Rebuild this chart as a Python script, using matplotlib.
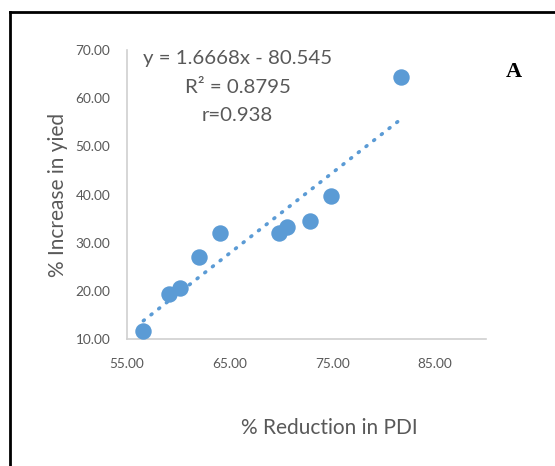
import matplotlib.pyplot as plt
from matplotlib.lines import Line2D
import numpy as np

plt.rcParams['font.family'] = ['Lato', 'DejaVu Sans']

# data
pdi_reduction = [56.6, 59.1, 60.2, 62.0, 64.1, 69.8, 70.6, 72.8, 74.9, 81.7]
yield_increase = [11.7, 19.3, 20.6, 27.0, 32.0, 32.0, 33.2, 34.5, 39.7, 64.4]
slope = 1.6668
intercept = -80.545
x_ticks = [55, 65, 75, 85]
y_ticks = [10, 20, 30, 40, 50, 60, 70]

blue = '#5B9BD5'
grey = '#595959'

fig = plt.figure(figsize=(5.55, 4.66), dpi=100)
ax = fig.add_axes([0.2288, 0.2725, 0.6469, 0.6202])

ax.scatter(pdi_reduction, yield_increase, s=140, color=blue, zorder=3, linewidths=0)

# linear trend line
xt = np.array([min(pdi_reduction), max(pdi_reduction)])
ax.plot(xt, slope * xt + intercept, color=blue, lw=2.6,
        linestyle=(0, (0.3, 2.4)), dash_capstyle='round', zorder=2)

ax.set_xlim(55, 90)
ax.set_ylim(10, 70)
ax.set_xticks(x_ticks)
ax.set_yticks(y_ticks)
ax.set_xticklabels(['%.2f' % v for v in x_ticks])
ax.set_yticklabels(['%.2f' % v for v in y_ticks])
ax.tick_params(length=0, labelsize=9.8, colors=grey)
ax.tick_params(axis='y', pad=12)
ax.tick_params(axis='x', pad=14)
for s in ['top', 'right']:
    ax.spines[s].set_visible(False)
for s in ['left', 'bottom']:
    ax.spines[s].set_color('#d0d0d0')
    ax.spines[s].set_linewidth(1.2)

fig.text(0.105, 0.582, '% Increase in yied', fontsize=15, color=grey,
         rotation=90, ha='center', va='center')
fig.text(0.593, 0.081, '% Reduction in PDI', fontsize=15, color=grey,
         ha='center', va='center')

eq_lines = ['y = %.4fx - %.3f' % (slope, -intercept), 'R² = 0.8795', 'r=0.938']
for i, line in enumerate(eq_lines):
    fig.text(0.428, 0.8755 - i * 0.0622, line, fontsize=14.7, color=grey,
             ha='center', va='center')
fig.text(0.925, 0.845, 'A', fontsize=16, fontweight='bold',
         family='Liberation Serif', ha='center', va='center')

# outer frame
fig.add_artist(Line2D([0.018, 1.0], [0.974, 0.974], color='black', lw=2,
                      transform=fig.transFigure))
fig.add_artist(Line2D([0.018, 0.018], [0.0, 0.974], color='black', lw=2,
                      transform=fig.transFigure))

fig.savefig('out.png', dpi=100)
